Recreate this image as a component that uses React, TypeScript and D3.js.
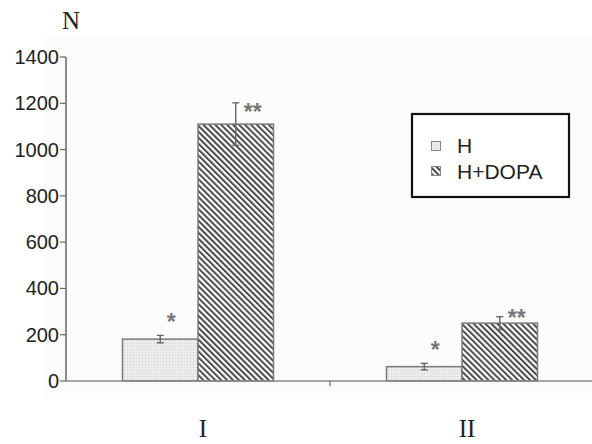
import React, { useEffect, useRef } from 'react';
import * as d3 from 'd3';

const groups = ['I', 'II'];
const seriesNames = ['H', 'H+DOPA'];
const valuesH = [181, 62];
const valuesDopa = [1110, 250];
const errH = [16, 14];
const errDopa = [92, 28];
const starsH = ['*', '*'];
const starsDopa = ['**', '**'];
const yTicks = [0, 200, 400, 600, 800, 1000, 1200, 1400];

export default function App() {
  const ref = useRef<SVGSVGElement | null>(null);

  useEffect(() => {
    const svg = d3.select(ref.current);
    svg.selectAll('*').remove();
    const W = 592, H = 444;
    const left = 66, right = 594, top = 57, bottom = 381;
    const sans = 'Liberation Sans, Arial, sans-serif';
    const serif = 'Liberation Serif, Times New Roman, serif';

    const defs = svg.append('defs');
    const dots = defs.append('pattern').attr('id', 'dots').attr('patternUnits', 'userSpaceOnUse')
      .attr('width', 3).attr('height', 3);
    dots.append('rect').attr('width', 3).attr('height', 3).attr('fill', '#ececec');
    dots.append('rect').attr('x', 1).attr('y', 1).attr('width', 1).attr('height', 1).attr('fill', '#cfcfcf');
    const stripes = defs.append('pattern').attr('id', 'stripes').attr('patternUnits', 'userSpaceOnUse')
      .attr('width', 4.2).attr('height', 4.2).attr('patternTransform', 'rotate(-45)');
    stripes.append('rect').attr('width', 4.2).attr('height', 4.2).attr('fill', '#fff');
    stripes.append('rect').attr('width', 2).attr('height', 4.2).attr('fill', '#4a4a4a');

    svg.append('rect').attr('width', W).attr('height', H).attr('fill', '#fff');
    svg.append('rect').attr('x', 43).attr('y', 37).attr('width', W - 43).attr('height', 362).attr('fill', '#fcfcfc');

    const x = d3.scaleBand().domain(groups).range([left, right]);
    const inner = d3.scaleBand().domain(seriesNames).range([0, 151]);
    const y = d3.scaleLinear().domain([0, 1400]).range([bottom, top]);
    const off = (x.bandwidth() - 151) / 2;

    const g = svg.append('g');
    const series = [
      { name: 'H', vals: valuesH, errs: errH, stars: starsH, fill: 'url(#dots)' },
      { name: 'H+DOPA', vals: valuesDopa, errs: errDopa, stars: starsDopa, fill: 'url(#stripes)' },
    ];
    series.forEach(s => {
      groups.forEach((c, i) => {
        const bx = (x(c) as number) + off + (inner(s.name) as number);
        const bw = inner.bandwidth();
        const cx = bx + bw / 2;
        const yb = y(s.vals[i]);
        g.append('rect').attr('x', bx).attr('y', yb).attr('width', bw)
          .attr('height', bottom - yb).attr('fill', s.fill)
          .attr('stroke', '#7a7a7a').attr('stroke-width', 1.5);
        const y1 = y(s.vals[i] + s.errs[i]), y0 = y(s.vals[i] - s.errs[i]);
        g.append('line').attr('x1', cx).attr('x2', cx).attr('y1', y1).attr('y2', y0)
          .attr('stroke', '#666').attr('stroke-width', 1.4);
        [y1, y0].forEach(yy => g.append('line').attr('x1', cx - 3.5).attr('x2', cx + 3.5)
          .attr('y1', yy).attr('y2', yy).attr('stroke', '#666').attr('stroke-width', 1.4));
        const isH = s.name === 'H';
        const sx = isH ? cx + 11 : cx + 17;
        const sy = isH ? y1 - 18 : Math.min(y1 + 4, yb - 10);
        g.append('text').attr('x', sx).attr('y', sy + 13)
          .attr('text-anchor', 'middle').attr('font-family', sans)
          .attr('font-size', 23).attr('font-weight', 'bold').attr('fill', '#777').text(s.stars[i]);
      });
    });

    // axes
    svg.append('line').attr('x1', left).attr('x2', left).attr('y1', top).attr('y2', bottom)
      .attr('stroke', '#666').attr('stroke-width', 1.5);
    svg.append('line').attr('x1', left).attr('x2', W).attr('y1', bottom).attr('y2', bottom)
      .attr('stroke', '#888').attr('stroke-width', 1.5);
    svg.append('line').attr('x1', x('II') as number).attr('x2', x('II') as number)
      .attr('y1', bottom).attr('y2', bottom + 5).attr('stroke', '#666').attr('stroke-width', 1.2);
    yTicks.forEach(t => {
      svg.append('line').attr('x1', left - 6).attr('x2', left).attr('y1', y(t)).attr('y2', y(t))
        .attr('stroke', '#666').attr('stroke-width', 1.2);
      svg.append('text').attr('x', left - 7).attr('y', y(t) + 7).attr('text-anchor', 'end')
        .attr('font-family', sans).attr('font-size', 20)
        .attr('fill', '#222').text(t);
    });
    svg.append('text').attr('x', 71).attr('y', 29).attr('text-anchor', 'middle')
      .attr('font-family', serif).attr('font-size', 25)
      .attr('fill', '#222').text('N');
    groups.forEach(c => {
      svg.append('text').attr('x', (x(c) as number) + off + 151 / 2 + 5).attr('y', 437)
        .attr('text-anchor', 'middle').attr('font-family', serif)
        .attr('font-size', 25).attr('fill', '#222').text(c);
    });

    // legend
    const lg = svg.append('g').attr('transform', 'translate(412,114)');
    lg.append('rect').attr('width', 157).attr('height', 83).attr('fill', '#fff')
      .attr('stroke', '#111').attr('stroke-width', 2.2);
    series.forEach((s, i) => {
      lg.append('rect').attr('x', 19.5).attr('y', 27.5 + i * 25).attr('width', 9).attr('height', 9)
        .attr('fill', s.fill).attr('stroke', '#888').attr('stroke-width', 1);
      lg.append('text').attr('x', 45).attr('y', 39 + i * 26)
        .attr('font-family', sans).attr('font-size', 21)
        .attr('fill', '#222').text(s.name);
    });
  }, []);

  return (
    <svg ref={ref} width={592} height={444} style={{ position: 'absolute', left: 0, top: 0 }} />
  );
}
